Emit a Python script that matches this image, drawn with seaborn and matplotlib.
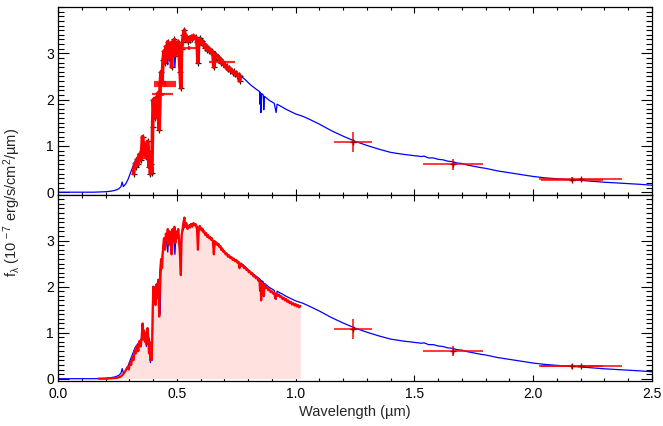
import numpy as np
import matplotlib
matplotlib.use('Agg')
import matplotlib.pyplot as plt
import seaborn as sns
from matplotlib.ticker import MultipleLocator

# ---------------- data ----------------
lam_model = [0.00, 0.15, 0.18, 0.20, 0.22, 0.24, 0.255, 0.265, 0.270, 0.275, 0.285,
             0.295, 0.305, 0.315, 0.325, 0.335, 0.345, 0.355, 0.365, 0.372, 0.378,
             0.385, 0.389, 0.393, 0.396, 0.400, 0.405, 0.410, 0.415, 0.420, 0.425,
             0.430, 0.433, 0.440, 0.448, 0.455, 0.462, 0.466, 0.475, 0.485, 0.492,
             0.497, 0.505, 0.512, 0.517, 0.521, 0.530, 0.540, 0.550, 0.560, 0.570,
             0.580, 0.586, 0.589, 0.593, 0.600, 0.615, 0.630, 0.645, 0.655, 0.657,
             0.660, 0.680, 0.700, 0.720, 0.740, 0.760, 0.766, 0.770, 0.790, 0.810,
             0.830, 0.849, 0.850, 0.852, 0.854, 0.857, 0.864, 0.866, 0.869, 0.890,
             0.910, 0.918, 0.922, 0.940, 0.960, 0.980, 1.000, 1.030, 1.060, 1.080,
             1.100, 1.150, 1.200, 1.250, 1.300, 1.350, 1.400, 1.450, 1.500, 1.530,
             1.540, 1.560, 1.580, 1.600, 1.620, 1.640, 1.660, 1.680, 1.700, 1.720,
             1.740, 1.760, 1.780, 1.800, 1.850, 1.900, 1.950, 2.000, 2.050, 2.100,
             2.150, 2.200, 2.250, 2.300, 2.350, 2.400, 2.450, 2.500]
f_model = [0.00, 0.00, 0.005, 0.01, 0.02, 0.04, 0.07, 0.12, 0.22, 0.12, 0.18,
           0.28, 0.42, 0.55, 0.68, 0.75, 0.82, 0.90, 0.92, 0.70, 0.95,
           0.85, 0.35, 0.70, 0.40, 1.80, 2.00, 1.80, 2.05, 2.10, 1.90,
           1.40, 2.30, 2.75, 3.00, 3.05, 2.75, 3.10, 3.12, 3.15, 2.70,
           3.18, 3.15, 2.80, 2.30, 3.15, 3.28, 3.32, 3.33, 3.36, 3.37,
           3.36, 3.30, 2.95, 3.28, 3.27, 3.18, 3.10, 3.04, 2.97, 2.75,
           2.96, 2.90, 2.76, 2.67, 2.60, 2.54, 2.42, 2.51, 2.42, 2.32,
           2.24, 2.17, 1.90, 2.15, 1.72, 2.13, 2.10, 1.78, 2.07, 1.98,
           1.92, 1.72, 1.90, 1.85, 1.79, 1.74, 1.69, 1.64, 1.57, 1.52,
           1.47, 1.33, 1.21, 1.10, 1.01, 0.93, 0.86, 0.82, 0.79, 0.77,
           0.78, 0.74, 0.74, 0.71, 0.70, 0.67, 0.66, 0.63, 0.62, 0.59,
           0.57, 0.55, 0.53, 0.515, 0.46, 0.42, 0.38, 0.34, 0.31, 0.29,
           0.27, 0.255, 0.235, 0.215, 0.20, 0.185, 0.17, 0.15]

lam_spec = [0.170, 0.200, 0.230, 0.250, 0.265, 0.275, 0.285, 0.292, 0.298, 0.303,
            0.308, 0.313, 0.318, 0.323, 0.328, 0.333, 0.338, 0.343, 0.348, 0.352,
            0.356, 0.358, 0.362, 0.366, 0.370, 0.373, 0.377, 0.380, 0.383, 0.386,
            0.389, 0.392, 0.395, 0.398, 0.401, 0.404, 0.407, 0.410, 0.414, 0.418,
            0.422, 0.426, 0.430, 0.434, 0.438, 0.442, 0.446, 0.450, 0.454, 0.458,
            0.462, 0.466, 0.470, 0.474, 0.478, 0.482, 0.486, 0.490, 0.494, 0.498,
            0.502, 0.506, 0.510, 0.514, 0.517, 0.520, 0.524, 0.528, 0.532, 0.536,
            0.540, 0.545, 0.550, 0.555, 0.560, 0.565, 0.570, 0.575, 0.580, 0.585,
            0.589, 0.592, 0.596,
            0.600, 0.604, 0.608, 0.612, 0.616, 0.620, 0.624, 0.628, 0.632, 0.636,
            0.640, 0.644, 0.648, 0.652, 0.656, 0.659, 0.663, 0.667, 0.671, 0.675,
            0.679, 0.683, 0.687, 0.691, 0.695, 0.700, 0.705, 0.710, 0.715, 0.720,
            0.725, 0.730, 0.735, 0.740, 0.745, 0.750, 0.755, 0.760, 0.764, 0.768,
            0.773, 0.778, 0.783, 0.788, 0.793, 0.798, 0.803, 0.808, 0.813, 0.818,
            0.823, 0.828, 0.833, 0.838, 0.843, 0.848, 0.850, 0.853, 0.855, 0.858,
            0.862, 0.866, 0.870, 0.875, 0.880, 0.885, 0.890, 0.895, 0.900, 0.905,
            0.910, 0.915, 0.920, 0.925, 0.930, 0.935, 0.940, 0.945, 0.950, 0.955,
            0.960, 0.965, 0.970, 0.975, 0.980, 0.985, 0.990, 0.995, 1.000, 1.005,
            1.010, 1.015, 1.020]
f_spec = [0.00, 0.00, 0.01, 0.02, 0.05, 0.10, 0.18, 0.25, 0.20, 0.36,
          0.30, 0.48, 0.40, 0.62, 0.55, 0.72, 0.60, 0.82, 0.70, 0.90,
          1.20, 0.85, 1.05, 0.80, 1.00, 0.75, 1.10, 0.90, 0.55, 0.80,
          0.40, 0.60, 0.42, 1.40, 2.00, 1.70, 1.95, 1.60, 2.05, 1.75,
          2.15, 1.35, 2.35, 2.60, 2.40, 2.85, 3.05, 2.80, 3.15, 3.00,
          3.25, 2.90, 3.20, 3.10, 2.70, 3.25, 3.05, 3.30, 2.95, 3.20,
          3.05, 3.25, 3.00, 2.60, 2.25, 3.10, 3.25, 3.40, 3.50, 3.30,
          3.38, 3.25, 3.32, 3.28, 3.36, 3.30, 3.38, 3.33, 3.35, 3.25,
          2.80, 3.20, 3.32,
          3.28, 3.22, 3.26, 3.18, 3.20, 3.12, 3.16, 3.08, 3.12, 3.05,
          3.08, 3.02, 3.05, 2.98, 2.70, 2.99, 2.92, 2.96, 2.90, 2.93,
          2.86, 2.88, 2.80, 2.83, 2.76, 2.77, 2.70, 2.72, 2.65, 2.68,
          2.62, 2.64, 2.58, 2.61, 2.55, 2.58, 2.52, 2.54, 2.40, 2.50,
          2.45, 2.47, 2.40, 2.42, 2.36, 2.37, 2.31, 2.33, 2.27, 2.29,
          2.22, 2.24, 2.18, 2.20, 2.13, 2.15, 1.95, 2.10, 1.70, 2.08,
          2.03, 1.80, 2.04, 1.97, 1.99, 1.92, 1.94, 1.88, 1.90, 1.85,
          1.87, 1.74, 1.85, 1.80, 1.83, 1.77, 1.79, 1.73, 1.76, 1.70,
          1.73, 1.67, 1.70, 1.64, 1.67, 1.61, 1.64, 1.59, 1.62, 1.57,
          1.60, 1.55, 1.58]

# optical photometry (top panel)
lam_opt = [0.365, 0.355, 0.440, 0.450, 0.450, 0.450, 0.550, 0.690, 0.399, 0.434]
f_opt = [0.80, 0.74, 2.11, 2.30, 2.34, 2.38, 3.12, 2.82, 1.48, 2.57]
xerr_opt = [0.033, 0.025, 0.045, 0.048, 0.048, 0.048, 0.040, 0.055, 0.004, 0.004]
yerr_opt = [0.04, 0.04, 0.03, 0.03, 0.03, 0.03, 0.04, 0.03, 0.08, 0.06]

# near-infrared photometry (both panels)
lam_nir = [1.243, 1.662, 2.163, 2.200]
f_nir = [1.08, 0.60, 0.27, 0.275]
xerr_nir = [0.080, 0.125, 0.130, 0.175]
yerr_nir = [0.21, 0.11, 0.05, 0.03]

# ---------------- style ----------------
sns.set_theme(style='ticks')
plt.rcParams['font.family'] = ['Liberation Sans', 'DejaVu Sans']
plt.rcParams['mathtext.fontset'] = 'custom'
plt.rcParams['mathtext.rm'] = 'Liberation Sans'
plt.rcParams['mathtext.it'] = 'Liberation Sans:italic'
plt.rcParams['mathtext.default'] = 'regular'

BLUE = '#0000ff'
RED = '#ff0000'
PINK = '#ffe1df'

fig = plt.figure(figsize=(6.63, 4.26), dpi=100)
ax1 = fig.add_axes([0.0875, 0.5434, 0.8959, 0.4402])
ax2 = fig.add_axes([0.0875, 0.1056, 0.8959, 0.4378])

lam_spec_a = np.array(lam_spec)
f_spec_a = np.array(f_spec)
top_mask = (lam_spec_a >= 0.318) & (lam_spec_a <= 0.768)

# ---- top panel ----
sns.lineplot(x=lam_model, y=f_model, ax=ax1, color=BLUE, lw=0.9,
             sort=False, estimator=None, zorder=2)
ax1.plot(lam_spec_a[top_mask], f_spec_a[top_mask], ls='none', marker='+',
         color='k', ms=5, mew=0.9, zorder=3)
sns.lineplot(x=lam_spec_a[top_mask], y=f_spec_a[top_mask], ax=ax1, color=RED,
             lw=2.6, sort=False, estimator=None, zorder=4)
ax1.errorbar(lam_opt, f_opt, xerr=xerr_opt, yerr=yerr_opt, fmt='none',
             ecolor=RED, elinewidth=1.6, capsize=0, zorder=5, alpha=0.85)
ax1.errorbar(lam_nir, f_nir, xerr=xerr_nir, yerr=yerr_nir, fmt='none',
             ecolor=RED, elinewidth=1.2, capsize=0, zorder=5, alpha=0.9)
ax1.plot(lam_nir, f_nir, ls='none', marker='+', color='#a00000', ms=5,
         mew=1.0, zorder=6)

# ---- bottom panel ----
ax2.fill_between(lam_spec, 0, f_spec, color=PINK, lw=0, zorder=1)
sns.lineplot(x=lam_model, y=f_model, ax=ax2, color=BLUE, lw=0.9,
             sort=False, estimator=None, zorder=2)
sns.lineplot(x=lam_spec, y=f_spec, ax=ax2, color=RED, lw=1.6,
             sort=False, estimator=None, zorder=3)
ax2.errorbar(lam_nir, f_nir, xerr=xerr_nir, yerr=yerr_nir, fmt='none',
             ecolor=RED, elinewidth=1.2, capsize=0, zorder=5, alpha=0.9)
ax2.plot(lam_nir, f_nir, ls='none', marker='+', color='#a00000', ms=5,
         mew=1.0, zorder=6)

for ax in (ax1, ax2):
    ax.set_xlim(0.0, 2.5)
    ax.set_ylim(-0.05, 4.0)
    ax.xaxis.set_major_locator(MultipleLocator(0.5))
    ax.xaxis.set_minor_locator(MultipleLocator(0.1))
    ax.yaxis.set_major_locator(MultipleLocator(1))
    ax.yaxis.set_minor_locator(MultipleLocator(0.1))
    ax.tick_params(which='both', direction='in', top=True, right=True,
                   colors='black', width=0.8, labelsize=10)
    ax.tick_params(axis='x', which='major', length=4.5, pad=4)
    ax.tick_params(axis='x', which='minor', length=2.2)
    ax.tick_params(axis='y', which='major', length=8, pad=3)
    ax.tick_params(axis='y', which='minor', length=4)
    for sp in ax.spines.values():
        sp.set_color('black')
        sp.set_linewidth(0.9)
    ax.set_ylabel('')
    ax.set_xlabel('')
    ax.set_yticks([0, 1, 2, 3])
    ax.set_yticklabels(['0', '1', '2', '3'])

ax1.tick_params(axis='x', labelbottom=False)
ax2.set_xticks([0.0, 0.5, 1.0, 1.5, 2.0, 2.5])
ax2.set_xticklabels(['0.0', '0.5', '1.0', '1.5', '2.0', '2.5'])
ax2.set_xlabel('Wavelength (µm)', fontsize=10.5, labelpad=3)

fig.text(0.018, 0.525, r'f$_\lambda$ (10$^{\,-7}$ erg/s/cm$^2$/µm)',
         rotation=90, ha='center', va='center', fontsize=10.5)

fig.savefig('out.png', dpi=100)
